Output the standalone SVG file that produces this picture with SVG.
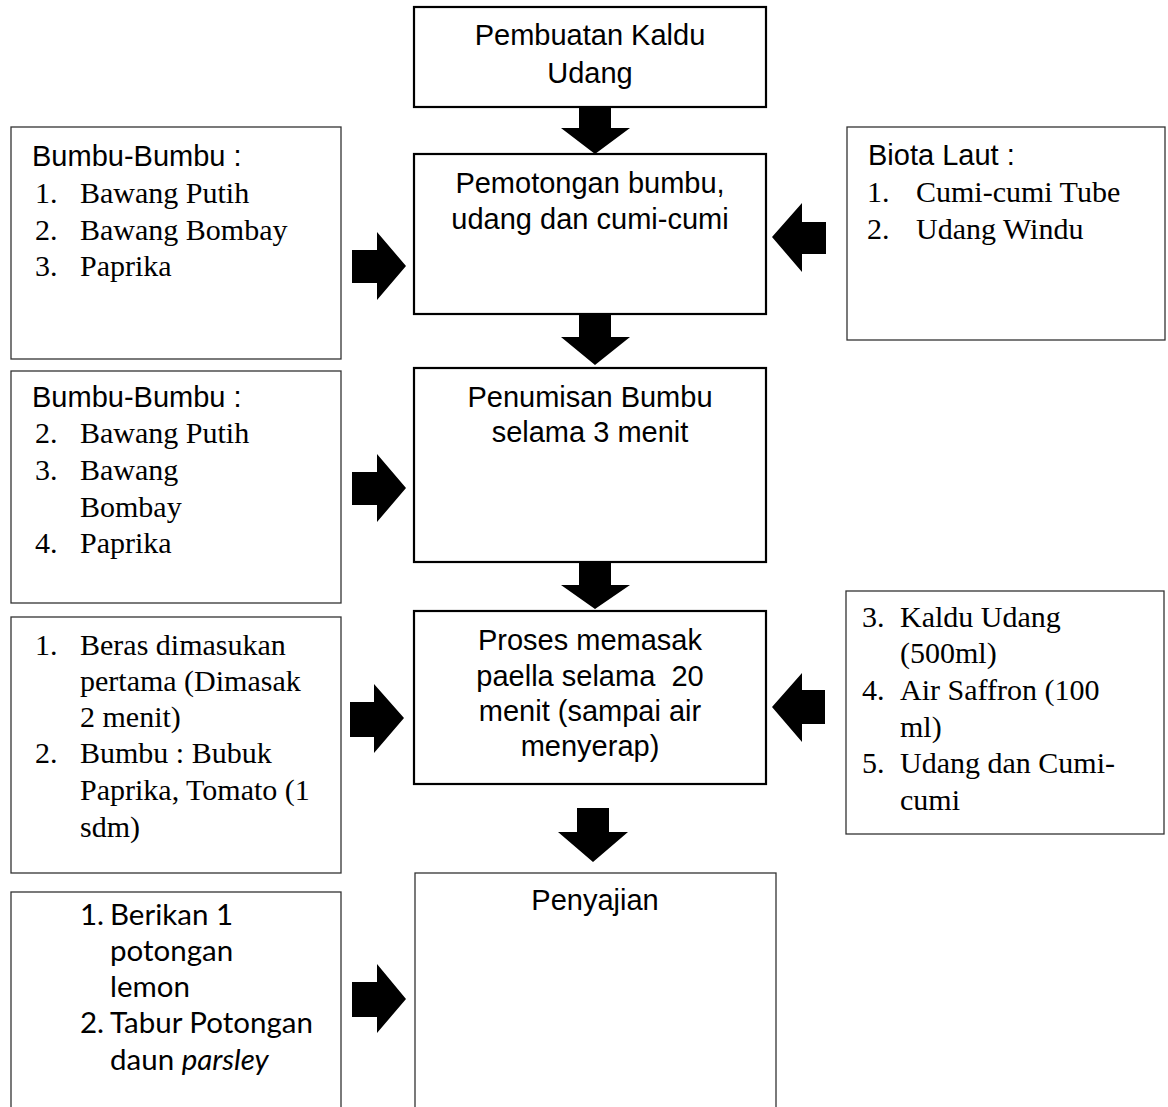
<svg xmlns="http://www.w3.org/2000/svg" width="1168" height="1107" viewBox="0 0 1168 1107">
<style>
.main{fill:#fff;stroke:#000;stroke-width:2.2}
.side{fill:#fff;stroke:#333;stroke-width:1.3}
.t{font-family:"Liberation Sans",Arial,sans-serif;font-size:29px;fill:#000}
.c{text-anchor:middle}
.s{font-family:"Liberation Serif","Times New Roman",serif;font-size:30px;fill:#000}
.k{font-family:Lato,"Open Sans",sans-serif;font-size:29.5px;fill:#000}
.arrow{fill:#000;stroke:none}
</style>
<rect width="1168" height="1107" fill="#fff"/>
<g id="node-kaldu">
<rect class="main" x="414" y="7" width="352" height="100"/>
<text class="t c" x="590" y="45">Pembuatan Kaldu</text>
<text class="t c" x="590" y="83">Udang</text>
</g>
<g id="node-pemotongan">
<rect class="main" x="414" y="154" width="352" height="160"/>
<text class="t c" x="590" y="193">Pemotongan bumbu,</text>
<text class="t c" x="590" y="229">udang dan cumi-cumi</text>
</g>
<g id="node-penumisan">
<rect class="main" x="414" y="368" width="352" height="194"/>
<text class="t c" x="590" y="407">Penumisan Bumbu</text>
<text class="t c" x="590" y="442">selama 3 menit</text>
</g>
<g id="node-proses">
<rect class="main" x="414" y="611" width="352" height="173"/>
<text class="t c" x="590" y="650">Proses memasak</text>
<text class="t c" x="590" y="686" xml:space="preserve">paella selama  20</text>
<text class="t c" x="590" y="721">menit (sampai air</text>
<text class="t c" x="590" y="756">menyerap)</text>
</g>
<g id="node-penyajian">
<rect class="side" x="415" y="873" width="361" height="240"/>
<text class="t c" x="595" y="910">Penyajian</text>
</g>
<g id="node-bumbu1">
<rect class="side" x="11" y="127" width="330" height="232"/>
<text class="t" x="32" y="166">Bumbu-Bumbu :</text>
<text class="s" x="35" y="203">1.</text><text class="s" x="80" y="203">Bawang Putih</text>
<text class="s" x="35" y="240">2.</text><text class="s" x="80" y="240">Bawang Bombay</text>
<text class="s" x="35" y="276">3.</text><text class="s" x="80" y="276">Paprika</text>
</g>
<g id="node-bumbu2">
<rect class="side" x="11" y="371" width="330" height="232"/>
<text class="t" x="32" y="407">Bumbu-Bumbu :</text>
<text class="s" x="35" y="443">2.</text><text class="s" x="80" y="443">Bawang Putih</text>
<text class="s" x="35" y="480">3.</text><text class="s" x="80" y="480">Bawang</text>
<text class="s" x="80" y="517">Bombay</text>
<text class="s" x="35" y="553">4.</text><text class="s" x="80" y="553">Paprika</text>
</g>
<g id="node-beras">
<rect class="side" x="11" y="617" width="330" height="256"/>
<text class="s" x="35" y="655">1.</text><text class="s" x="80" y="655">Beras dimasukan</text>
<text class="s" x="80" y="691">pertama (Dimasak</text>
<text class="s" x="80" y="727">2 menit)</text>
<text class="s" x="35" y="763">2.</text><text class="s" x="80" y="763">Bumbu : Bubuk</text>
<text class="s" x="80" y="800">Paprika, Tomato (1</text>
<text class="s" x="80" y="837">sdm)</text>
</g>
<g id="node-sajian">
<rect class="side" x="11" y="892" width="330" height="220"/>
<text class="k" x="80" y="925">1.</text><text class="k" x="110" y="925">Berikan 1</text>
<text class="k" x="110" y="961">potongan</text>
<text class="k" x="110" y="997">lemon</text>
<text class="k" x="80" y="1033">2.</text><text class="k" x="110" y="1033">Tabur Potongan</text>
<text class="k" x="110" y="1070">daun <tspan font-style="italic">parsley</tspan></text>
</g>
<g id="node-biota">
<rect class="side" x="847" y="127" width="318" height="213"/>
<text class="t" x="868" y="165">Biota Laut :</text>
<text class="s" x="867" y="202">1.</text><text class="s" x="916" y="202">Cumi-cumi Tube</text>
<text class="s" x="867" y="239">2.</text><text class="s" x="916" y="239">Udang Windu</text>
</g>
<g id="node-kaldu-bahan">
<rect class="side" x="846" y="591" width="318" height="243"/>
<text class="s" x="862" y="627">3.</text><text class="s" x="900" y="627">Kaldu Udang</text>
<text class="s" x="900" y="663">(500ml)</text>
<text class="s" x="862" y="700">4.</text><text class="s" x="900" y="700">Air Saffron (100</text>
<text class="s" x="900" y="737">ml)</text>
<text class="s" x="862" y="773">5.</text><text class="s" x="900" y="773">Udang dan Cumi-</text>
<text class="s" x="900" y="810">cumi</text>
</g>
<g id="connectors">
<polygon class="arrow" points="579,107 611,107 611,128 630,128 595,154 561,128 579,128"/>
<polygon class="arrow" points="579,314 611,314 611,337 630,337 595,365 561,337 579,337"/>
<polygon class="arrow" points="579,562 611,562 611,585 630,585 595,609 561,585 579,585"/>
<polygon class="arrow" points="577,808 609,808 609,832 628,832 593,862 558,832 577,832"/>
<polygon class="arrow" points="352,250 377,250 377,232 406,266 377,300 377,283 352,283"/>
<polygon class="arrow" points="352,472 377,472 377,454 406,488 377,522 377,505 352,505"/>
<polygon class="arrow" points="350,702 374,702 374,684 404,718 374,753 374,737 350,737"/>
<polygon class="arrow" points="352,982 377,982 377,964 406,999 377,1033 377,1017 352,1017"/>
<polygon class="arrow" points="826,222 802,222 802,203 772,237 802,272 802,254 826,254"/>
<polygon class="arrow" points="825,690 802,690 802,673 772,707 802,742 802,724 825,724"/>
</g>
</svg>
